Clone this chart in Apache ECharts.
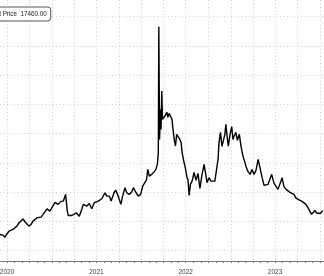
<!DOCTYPE html>
<html><head><meta charset="utf-8">
<script src="https://cdn.jsdelivr.net/npm/echarts@6/dist/echarts.min.js"></script>
<style>html,body{margin:0;padding:0;background:#fff}#c{width:324px;height:276px}</style>
</head><body><div id="c"></div>
<script>
const dates = ['2020-06-02','2020-06-14','2020-06-22','2020-07-01','2020-07-09','2020-07-17','2020-07-25','2020-08-02','2020-08-10','2020-08-19','2020-08-27','2020-09-04','2020-09-12','2020-09-20','2020-09-28','2020-10-07','2020-10-15','2020-10-23','2020-10-31','2020-11-08','2020-11-17','2020-11-25','2020-12-03','2020-12-11','2020-12-19','2020-12-23','2020-12-31',
'2021-01-13','2021-01-25','2021-02-06','2021-02-16','2021-02-25','2021-03-04','2021-03-08','2021-03-22','2021-03-31','2021-04-09','2021-04-22','2021-05-02','2021-05-08','2021-05-22','2021-06-02','2021-06-12','2021-06-22','2021-07-09','2021-07-23','2021-08-05','2021-08-12','2021-08-23','2021-08-30','2021-09-11','2021-09-18','2021-09-28','2021-10-09','2021-10-16','2021-10-26','2021-11-02','2021-11-12','2021-11-22','2021-11-29','2021-12-10','2021-12-19','2021-12-29',
'2022-01-06','2022-01-15','2022-01-22','2022-01-27','2022-02-02','2022-02-12','2022-02-21','2022-03-01','2022-03-07','2022-03-11','2022-03-13','2022-03-16','2022-03-20','2022-03-22','2022-03-25','2022-03-28','2022-04-01','2022-04-07','2022-04-15','2022-04-19','2022-04-24','2022-04-30','2022-05-06','2022-05-10','2022-05-16','2022-05-20','2022-05-25','2022-05-30','2022-06-07','2022-06-12','2022-06-16','2022-06-24','2022-06-28','2022-07-02','2022-07-06','2022-07-10','2022-07-15','2022-07-20','2022-07-27','2022-08-04','2022-08-12','2022-08-20','2022-08-28','2022-09-05','2022-09-14','2022-09-18','2022-09-22','2022-09-26','2022-10-04','2022-10-12','2022-10-20','2022-10-28','2022-11-04','2022-11-10','2022-11-14','2022-11-20','2022-11-26','2022-12-02','2022-12-08','2022-12-12','2022-12-17','2022-12-22','2022-12-29',
'2023-01-05','2023-01-10','2023-01-16','2023-01-22','2023-01-28','2023-02-05','2023-02-12','2023-02-20','2023-02-28','2023-03-04','2023-03-12','2023-03-21','2023-03-29','2023-04-06','2023-04-14','2023-04-23','2023-04-30','2023-05-09','2023-05-17','2023-05-25','2023-06-02','2023-06-10','2023-06-17','2023-06-27','2023-07-05','2023-07-13','2023-07-21','2023-07-30','2023-08-06','2023-08-15','2023-08-23','2023-08-31','2023-09-08','2023-09-16','2023-09-24','2023-10-03','2023-10-11','2023-10-19','2023-10-27','2023-11-04','2023-11-13','2023-11-21','2023-11-27','2023-12-03','2023-12-11','2023-12-17','2023-12-23','2024-01-01','2024-01-09','2024-01-12'];
const prices = [14220,14130,13850,14320,14670,14590,14910,15140,15360,15820,16040,16340,15960,15690,15360,15590,16040,16270,16510,16720,16590,16960,17160,17710,17850,17410,17640,
18600,18330,18740,18780,19690,17410,16820,16820,16960,17190,16720,17640,18330,18090,18460,17740,18560,18780,19100,19920,19460,19460,18780,19920,20280,19460,18330,19460,20610,19920,19690,20010,20610,19920,19460,19690,
20830,21290,21740,23110,22200,22430,22740,23110,23800,25400,42600,27210,31320,28580,33820,29950,30220,30400,30950,30220,30770,30840,29950,28580,26980,26300,27900,27620,27210,26800,25440,24070,23520,22840,22020,21740,19560,21060,21510,22700,21610,22560,20510,22290,23800,24030,22200,21290,21980,21510,21740,21510,23110,24480,26800,28170,26260,26390,27900,29270,27620,26300,27900,
28950,27210,27760,28170,27080,27900,26260,24890,24070,23520,22840,22430,23110,22430,22970,24480,23380,22020,20920,20650,21060,20790,22430,21200,20790,20380,20650,21980,20790,20380,20510,19970,20030,19690,19210,19010,18910,18740,18560,18330,17850,17640,16960,17230,17500,17160,17370,17090,17030,17460];
const seriesName = 'Last Price';
const lastPrice = 17460;
const yearLabels = ['2020','2021','2022','2023'];
const rangeStart = '2020-06-02';
const rangeEnd = '2024-01-17';
const levelMin = 8000, levelMax = 44000, levelStep = 4000;

const days = [];
for (let t = Date.parse(rangeStart); t <= Date.parse(rangeEnd); t += 86400000) {
  days.push(new Date(t).toISOString().slice(0, 10));
}
const gridColor = '#cfcfcf';
const dotted = [1, 2.5];

const chart = echarts.init(document.getElementById('c'), null, {renderer: 'canvas'});
chart.setOption({
  animation: false,
  backgroundColor: '#fff',
  legend: {
    data: [seriesName], left: -28, top: 7, padding: [3, 4],
    itemWidth: 8, itemHeight: 8, icon: 'rect',
    borderColor: '#555', borderWidth: 1, borderRadius: 3, backgroundColor: '#fff',
    textStyle: {fontSize: 6.3, color: '#222', fontFamily: 'Liberation Sans'},
    formatter: n => n + '  ' + lastPrice.toFixed(2)
  },
  grid: [
    {left: 0, right: 0, top: 0, bottom: 15, containLabel: false, outerBoundsMode: 'none'},
    {left: 0, right: 0, top: 16.5, bottom: -4, containLabel: false, outerBoundsMode: 'none'}
  ],
  xAxis: [
    {type: 'category', gridIndex: 0, data: days, boundaryGap: false,
     axisLine: {show: true, lineStyle: {color: '#7a7a7a', width: 1}},
     axisTick: {show: true, interval: (i, v) => v.endsWith('-01'), length: 2, lineStyle: {color: '#7a7a7a'}},
     axisLabel: {show: true, interval: (i, v) => v.endsWith('-07-01') && yearLabels.includes(v.slice(0, 4)),
       formatter: v => v.slice(0, 4), fontSize: 6.5, color: '#444', margin: 8, fontFamily: 'Liberation Sans'},
     splitLine: {show: true, interval: (i, v) => /-(01|04|07|10)-01$/.test(v), lineStyle: {color: gridColor, type: dotted, width: 1}}},
    {type: 'category', gridIndex: 0, data: days, boundaryGap: false,
     axisLine: {show: false}, axisLabel: {show: false}, splitLine: {show: false},
     axisTick: {show: true, interval: (i, v) => v.endsWith('-01-01'), length: 16, lineStyle: {color: '#d0d0d0'}}},
    {type: 'time', gridIndex: 0, min: Date.parse(rangeStart), max: Date.parse(rangeEnd), show: false},
    {type: 'value', gridIndex: 1, show: false}
  ],
  yAxis: [
    {type: 'value', gridIndex: 0, min: 10595, max: 46254, show: false},
    {type: 'value', gridIndex: 1, min: levelMin, max: levelMax, interval: levelStep,
     axisLine: {show: false}, axisTick: {show: false}, axisLabel: {show: false},
     splitLine: {show: true, lineStyle: {color: gridColor, type: dotted, width: 1}}}
  ],
  series: [{
    type: 'line', name: seriesName, xAxisIndex: 2, yAxisIndex: 0,
    data: dates.map((d, i) => [Date.parse(d), prices[i]]),
    symbol: 'none', showSymbol: false,
    lineStyle: {color: '#000', width: 1.4}, itemStyle: {color: '#000'}
  }]
});
</script></body></html>
